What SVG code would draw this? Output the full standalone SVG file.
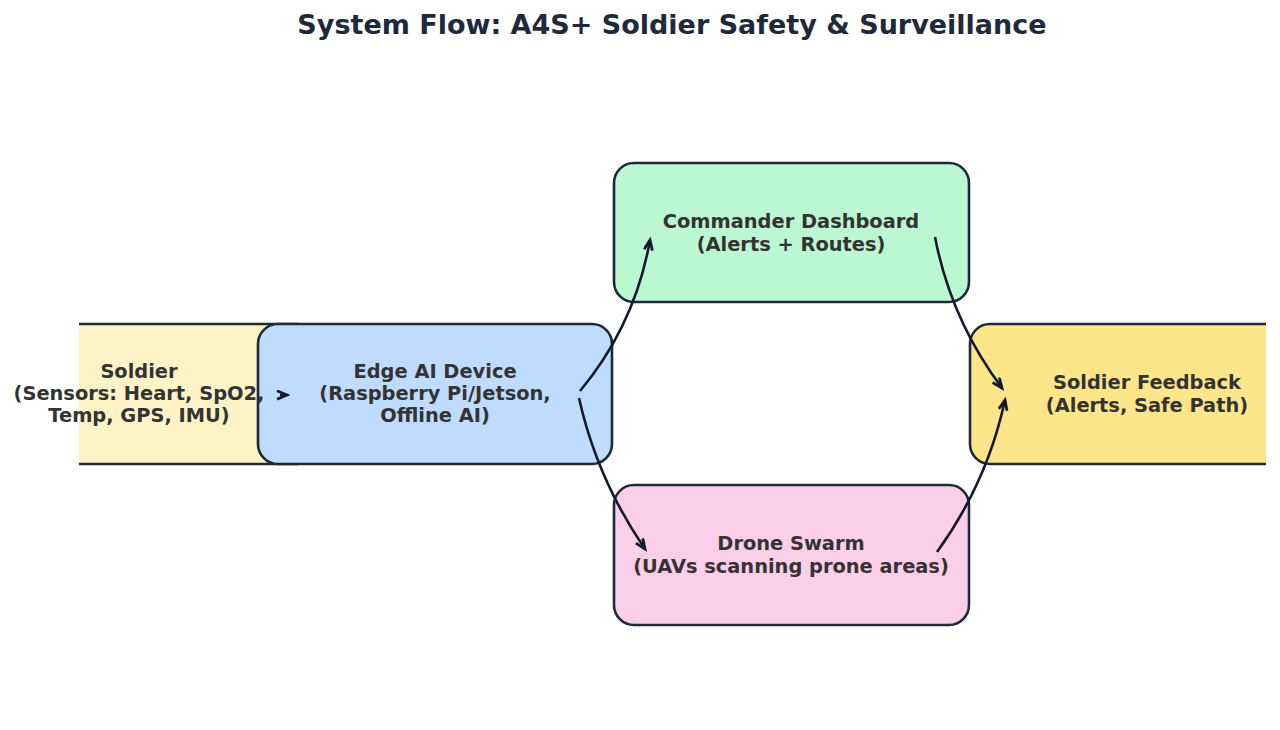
<svg xmlns="http://www.w3.org/2000/svg" width="1280" height="730" viewBox="0 0 1280 730">
<defs>
<clipPath id="ax"><rect x="79" y="0" width="1187" height="730"/></clipPath>
<marker id="ah" markerWidth="14" markerHeight="12" refX="11" refY="5" orient="auto" markerUnits="userSpaceOnUse">
<path d="M1,0.8 L11,5 L1,9.2" fill="none" stroke="#141a2e" stroke-width="2.8" stroke-linejoin="miter"/>
</marker>
</defs>
<style>
.box{stroke:#1f2937;stroke-width:2.6}
.t{font-family:"DejaVu Sans",sans-serif;font-weight:bold;font-size:19.4px;fill:#333333;text-anchor:middle}
.title{font-family:"DejaVu Sans",sans-serif;font-weight:bold;font-size:27px;fill:#1e293b;text-anchor:middle}
.c{fill:none;stroke:#141a2e;stroke-width:2.6;marker-end:url(#ah)}
</style>
<rect width="1280" height="730" fill="#ffffff"/>
<text class="title" x="672" y="34">System Flow: A4S+ Soldier Safety &amp; Surveillance</text>
<g id="soldier">
<rect class="box" clip-path="url(#ax)" x="-38" y="324" width="355" height="140" rx="20" fill="#fef3c7"/>
</g>
<g id="edge">
<rect class="box" x="258" y="324" width="354" height="140" rx="20" fill="#bfdbfe"/>
<text class="t" x="435" y="378">Edge AI Device</text>
<text class="t" x="435" y="400">(Raspberry Pi/Jetson,</text>
<text class="t" x="435" y="422">Offline AI)</text>
</g>
<g id="soldier-label">
<text class="t" x="139" y="378">Soldier</text>
<text class="t" x="139" y="400">(Sensors: Heart, SpO2,</text>
<text class="t" x="139" y="422">Temp, GPS, IMU)</text>
</g>
<g id="commander">
<rect class="box" x="614" y="163" width="355" height="139" rx="20" fill="#bbf7d0"/>
<text class="t" x="791" y="228">Commander Dashboard</text>
<text class="t" x="791" y="251">(Alerts + Routes)</text>
</g>
<g id="drone">
<rect class="box" x="614" y="485" width="355" height="140" rx="20" fill="#fbcfe8"/>
<text class="t" x="791" y="550">Drone Swarm</text>
<text class="t" x="791" y="573">(UAVs scanning prone areas)</text>
</g>
<g id="feedback">
<rect class="box" clip-path="url(#ax)" x="970" y="324" width="355" height="140" rx="20" fill="#fde68a"/>
<text class="t" x="1147" y="389">Soldier Feedback</text>
<text class="t" x="1147" y="412">(Alerts, Safe Path)</text>
</g>
<g id="connectors">
<path class="c" d="M280,395 L287,395"/>
<path class="c" d="M580,391 Q635,325 650,240"/>
<path class="c" d="M579,398 Q597,479 645,549"/>
<path class="c" d="M935,237 Q951,320 1002,388"/>
<path class="c" d="M937,552 Q987,483 1005,400"/>
</g>
</svg>
